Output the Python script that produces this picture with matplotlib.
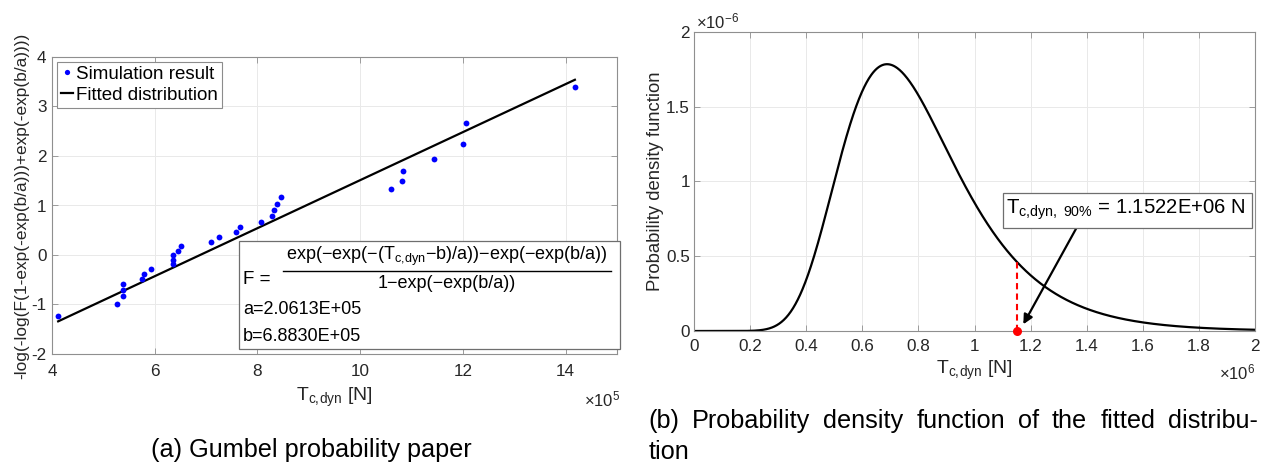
import numpy as np
import matplotlib
matplotlib.use('Agg')
import matplotlib.pyplot as plt
from matplotlib.ticker import MultipleLocator, FuncFormatter
from matplotlib.patches import Rectangle
from matplotlib.lines import Line2D

W, H = 1268, 465
plt.rcParams['font.family'] = ['Liberation Sans', 'DejaVu Sans']
plt.rcParams['mathtext.fontset'] = 'custom'
plt.rcParams['mathtext.rm'] = 'Liberation Sans'
plt.rcParams['mathtext.it'] = 'Liberation Sans:italic'
plt.rcParams['mathtext.bf'] = 'Liberation Sans:bold'

# ---- data ----
t_sim = np.array([4.12, 5.27, 5.38, 5.38, 5.39, 5.75, 5.79, 5.93, 6.35, 6.35,
                  6.36, 6.45, 6.51, 7.09, 7.26, 7.59, 7.66, 8.06, 8.29, 8.32,
                  8.38, 8.45, 10.60, 10.81, 10.84, 11.44, 12.00, 12.06, 14.18]) * 1e5
y_sim = np.array([-1.224, -0.996, -0.834, -0.701, -0.583, -0.476, -0.375, -0.279,
                  -0.186, -0.094, -0.003, 0.087, 0.179, 0.272, 0.367, 0.464, 0.565,
                  0.672, 0.784, 0.903, 1.031, 1.171, 1.325, 1.500, 1.702, 1.944,
                  2.250, 2.674, 3.384])
a_fit = 2.0613e5
b_fit = 6.8830e5
t_90 = 1.1522e6

TICK_COL = '#262626'
AX_COL = '#8f8f8f'
GRID_COL = '#e9e9e9'
SUB = r'$\mathrm{T_{c,\!dyn}}$'

def fx(px):
    return px / W

def fy(py):
    return 1 - py / H

fig = plt.figure(figsize=(W / 100, H / 100), dpi=100)

def style(ax):
    ax.grid(True, color=GRID_COL, lw=0.7)
    ax.set_axisbelow(True)
    for s in ax.spines.values():
        s.set_color(AX_COL)
        s.set_linewidth(0.8)
    ax.tick_params(direction='in', length=4, width=0.6, color=AX_COL,
                   top=True, right=True, labelsize=12.3, labelcolor=TICK_COL)

# ---- left: Gumbel paper ----
ax1 = fig.add_axes([fx(52), fy(354), 565 / W, 297 / H])
style(ax1)
ax1.plot(t_sim, y_sim, 'o', color='#0000ff', ms=4.2, mec='none',
         label='Simulation result', zorder=3)
tl = np.array([t_sim.min(), t_sim.max()])
ax1.plot(tl, (tl - b_fit) / a_fit, color='k', lw=1.6,
         label='Fitted distribution', zorder=2)
ax1.set_xlim(4e5, 15e5)
ax1.set_ylim(-2, 4)
ax1.xaxis.set_major_locator(MultipleLocator(2e5))
ax1.yaxis.set_major_locator(MultipleLocator(1))
ax1.xaxis.set_major_formatter(FuncFormatter(lambda v, p: f'{v / 1e5:g}'))
ax1.yaxis.set_major_formatter(FuncFormatter(lambda v, p: f'{v:g}'))
ax1.tick_params(axis='x', pad=7)
ax1.tick_params(axis='y', pad=4)
ax1.set_xlabel(SUB + ' [N]', fontsize=14, color=TICK_COL)
ax1.xaxis.set_label_coords(0.5, -(386 - 354) / 297)
ax1.set_ylabel('-log(-log(F(1-exp(-exp(b/a)))+exp(-exp(b/a))))', fontsize=12.4,
               color=TICK_COL)
ax1.yaxis.set_label_coords((29 - 52) / 565, 0.5)
leg = ax1.legend(loc='upper left', fontsize=13.5, handlelength=0.65,
                 handletextpad=0.15, borderpad=0.22, borderaxespad=0.25,
                 labelspacing=0.2, fancybox=False, framealpha=1,
                 edgecolor='#8c8c8c', markerscale=0.9)
leg.get_frame().set_linewidth(0.8)
fig.text(fx(620), fy(406), r'$\times10^{5}$', fontsize=12, ha='right',
         va='baseline', color=TICK_COL)

# formula box
fig.add_artist(Rectangle((fx(239.3), fy(349)), (620 - 239.3) / W, (349 - 240.7) / H,
                         transform=fig.transFigure, facecolor='white',
                         edgecolor='#6e6e6e', lw=0.9, zorder=5))
fig.text(fx(243), fy(279), 'F =', fontsize=13.5, ha='left', va='center', zorder=6)
num = ('exp(\u2212exp(\u2212(' + SUB +
       '\u2212b)/a))\u2212exp(\u2212exp(b/a))')
fig.text(fx(447), fy(256), num, fontsize=13, ha='center', va='center', zorder=6)
fig.add_artist(Line2D([fx(283.3), fx(611)], [fy(270.7), fy(270.7)],
                      transform=fig.transFigure, color='k', lw=1.0, zorder=6))
fig.text(fx(447), fy(284), '1\u2212exp(\u2212exp(b/a))', fontsize=13, ha='center',
         va='center', zorder=6)
fig.text(fx(243), fy(309), f'a={a_fit:.4E}', fontsize=13, ha='left', va='center',
         zorder=6)
fig.text(fx(243), fy(336.5), f'b={b_fit:.4E}', fontsize=13, ha='left', va='center',
         zorder=6)

# ---- right: PDF ----
ax2 = fig.add_axes([fx(694), fy(331), 561 / W, 299 / H])
style(ax2)
tt = np.linspace(0, 2e6, 1201)
z = (tt - b_fit) / a_fit
norm = 1 - np.exp(-np.exp(b_fit / a_fit))
pdf = np.exp(-z) * np.exp(-np.exp(-z)) / a_fit / norm
ax2.plot(tt, pdf, color='k', lw=1.6)
z90 = (t_90 - b_fit) / a_fit
p90 = np.exp(-z90) * np.exp(-np.exp(-z90)) / a_fit / norm
ax2.plot([t_90, t_90], [0, p90], color='#ff0000', lw=1.5, linestyle=(0, (3, 2)))
ax2.plot([t_90], [0], 'o', color='#ff0000', ms=6.5, mec='none', clip_on=False,
         zorder=5)
ax2.set_xlim(0, 2e6)
ax2.set_ylim(0, 2e-6)
ax2.xaxis.set_major_locator(MultipleLocator(2e5))
ax2.yaxis.set_major_locator(MultipleLocator(0.5e-6))
ax2.xaxis.set_major_formatter(FuncFormatter(lambda v, p: f'{v / 1e6:g}'))
ax2.yaxis.set_major_formatter(FuncFormatter(lambda v, p: f'{v / 1e-6:g}'))
ax2.tick_params(axis='x', pad=6)
ax2.tick_params(axis='y', pad=3)
ax2.set_xlabel(SUB + ' [N]', fontsize=14, color=TICK_COL)
ax2.xaxis.set_label_coords(0.5, -(359 - 331) / 299)
ax2.set_ylabel('Probability density function', fontsize=13.3, color=TICK_COL)
ax2.yaxis.set_label_coords((664 - 694) / 561, 0.5)
fig.text(fx(696), fy(28), r'$\times10^{-6}$', fontsize=12, ha='left',
         va='baseline', color=TICK_COL)
fig.text(fx(1255), fy(379), r'$\times10^{6}$', fontsize=12, ha='right',
         va='baseline', color=TICK_COL)

ax2.annotate('', xy=(1.174e6, 0.045e-6), xytext=(1.364e6, 0.691e-6),
             arrowprops=dict(arrowstyle='-|>', mutation_scale=14, lw=1.6,
                             color='k', shrinkA=0, shrinkB=0))
fig.add_artist(Rectangle((fx(1002.7), fy(227.7)), (1251.7 - 1002.7) / W,
                         (227.7 - 192.7) / H, transform=fig.transFigure,
                         facecolor='white', edgecolor='#6e6e6e', lw=0.9, zorder=5))
fig.text(fx(1006.5), fy(210), r'$\mathrm{T_{c,\!dyn,\ 90\%}}$ = 1.1522E+06 N',
         fontsize=14.6, ha='left', va='center', zorder=6)

# ---- captions ----
fig.text(fx(311), fy(457), '(a) Gumbel probability paper', fontsize=18.2,
         ha='center', va='baseline')
renderer = fig.canvas.get_renderer()
words = '(b) Probability density function of the fitted distribu-'.split()
objs = [fig.text(0, 0, w, fontsize=18.2, va='baseline') for w in words]
widths = [o.get_window_extent(renderer).width for o in objs]
x0, x1 = 648.3, 1258
gap = (x1 - x0 - sum(widths)) / (len(words) - 1)
x = x0
for o, w in zip(objs, widths):
    o.set_position((fx(x), fy(428)))
    x += w + gap
fig.text(fx(648.3), fy(459), 'tion', fontsize=18.2, ha='left', va='baseline')

fig.savefig('out.png', dpi=100)
